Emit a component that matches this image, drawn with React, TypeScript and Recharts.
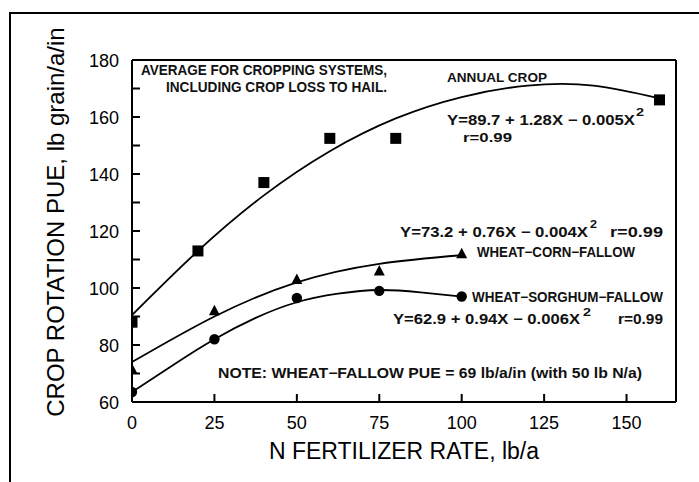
import { ComposedChart, Line, Scatter, XAxis, YAxis, ReferenceLine, Label } from 'recharts'

// measured points (N rate lb/a -> PUE lb grain/a/in)
const annualN = [0, 20, 40, 60, 80, 160]
const annualPue = [88, 113, 137, 152.5, 152.5, 166]
const cornN = [0, 25, 50, 75, 100]
const cornPue = [71.5, 92, 103, 106, 112]
const sorghumN = [0, 25, 50, 75, 100]
const sorghumPue = [63.5, 82, 96.5, 99, 97]

// fitted curves
const annualFitN = [0, 20, 40, 60, 80, 100, 120, 140, 160]
const annualFitPue = [90.5, 113, 132.5, 148, 159.5, 167, 171, 171, 166.5]
const cornFitN = [0, 25, 50, 75, 100]
const cornFitPue = [74, 90, 102, 108.5, 111.5]
const sorghumFitN = [0, 12.5, 25, 37.5, 50, 62.5, 75, 87.5, 100]
const sorghumFitPue = [63.5, 73, 82, 89.5, 95, 98, 99.3, 98.5, 97]

const xTicks = [0, 25, 50, 75, 100, 125, 150]
const yTicks = [60, 70, 80, 90, 100, 110, 120, 130, 140, 150, 160, 170, 180]

const toPoints = (xs: number[], ys: number[]) => xs.map((n, i) => ({ n, pue: ys[i] }))

const FONT = '"Liberation Sans", Arial, sans-serif'

const Square = (p: any) => <rect x={p.cx - 5.5} y={p.cy - 5.5} width={11} height={11} fill="#000" />
const Triangle = (p: any) => (
  <path d={`M${p.cx},${p.cy - 6} L${p.cx + 5.5},${p.cy + 4.5} L${p.cx - 5.5},${p.cy + 4.5} Z`} fill="#000" />
)
const Dot = (p: any) => <circle cx={p.cx} cy={p.cy} r={5.2} fill="#000" />

const axisLine = { stroke: '#000', strokeWidth: 2 }

// ticks point into the plot, labels sit outside
const LeftTick = (p: any) => {
  const v = p.payload.value
  return (
    <g>
      <line x1={p.x + 13} x2={p.x + 21} y1={p.y} y2={p.y} stroke="#000" strokeWidth={2} />
      {v % 20 === 0 && (
        <text x={p.x} y={p.y} dy={6.5} textAnchor="end" fontSize={18} fontFamily={FONT} fill="#000">{v}</text>
      )}
    </g>
  )
}
const RightTick = (p: any) => (
  <line x1={p.x} x2={p.x - 7} y1={p.y} y2={p.y} stroke="#000" strokeWidth={2} />
)
const BottomTick = (p: any) => (
  <g>
    <line x1={p.x} x2={p.x} y1={p.y - 15} y2={p.y - 23} stroke="#000" strokeWidth={2} />
    <text x={p.x} y={p.y} dy={12} textAnchor="middle" fontSize={18} fontFamily={FONT} fill="#000">{p.payload.value}</text>
  </g>
)

const Note = ({ x, y, w, size = 14, children }: any) => (
  <text x={x} y={y} fontSize={size} fontWeight="bold" fontFamily={FONT}
    textLength={w} lengthAdjust="spacingAndGlyphs" fill="#111">
    {children}
  </text>
)

export default function App() {
  return (
    <div style={{ position: 'absolute', left: 0, top: 0, width: 699, height: 482, overflow: 'hidden', background: '#fff' }}>
      <div style={{ position: 'absolute', left: 9, top: 12, width: 720, height: 500, borderLeft: '2.5px solid #000', borderTop: '2.5px solid #000' }} />
      <div style={{ position: 'absolute', left: 0, top: 0 }}>
        <ComposedChart width={699} height={482} margin={{ top: 60, right: 22, bottom: 40, left: 72 }}>
          <XAxis dataKey="n" type="number" domain={[0, 165]} ticks={xTicks} allowDataOverflow
            height={40} axisLine={axisLine} tickLine={false} tickSize={0} tickMargin={15} tick={BottomTick}>
            <Label content={(props: any) => {
              const vb = props.viewBox
              return (
                <text x={vb.x + vb.width / 2} y={459} textAnchor="middle" fontSize={23} fontFamily={FONT} fill="#000">
                  N FERTILIZER RATE, lb/a
                </text>
              )
            }} />
          </XAxis>
          <YAxis type="number" domain={[60, 180]} ticks={yTicks} allowDataOverflow width={60}
            axisLine={axisLine} tickLine={false} tickSize={0} tickMargin={13} tick={LeftTick}>
            <Label content={() => (
              <text x={64} y={222} textAnchor="middle" fontSize={24} fontFamily={FONT} fill="#000"
                transform="rotate(-90, 64, 222)">
                CROP ROTATION PUE, lb grain/a/in
              </text>
            )} />
          </YAxis>
          <YAxis yAxisId="r" orientation="right" type="number" domain={[60, 180]} ticks={yTicks} width={1}
            axisLine={axisLine} tickLine={false} tickSize={0} tickMargin={0} tick={RightTick} />
          <ReferenceLine y={180} stroke="#000" strokeWidth={2} />

          <Line data={toPoints(annualFitN, annualFitPue)} dataKey="pue" type="natural" stroke="#000"
            strokeWidth={1.8} dot={false} isAnimationActive={false} />
          <Line data={toPoints(cornFitN, cornFitPue)} dataKey="pue" type="natural" stroke="#000"
            strokeWidth={1.8} dot={false} isAnimationActive={false} />
          <Line data={toPoints(sorghumFitN, sorghumFitPue)} dataKey="pue" type="natural" stroke="#000"
            strokeWidth={1.8} dot={false} isAnimationActive={false} />

          <Scatter data={toPoints(annualN, annualPue)} dataKey="pue" shape={Square} isAnimationActive={false} />
          <Scatter data={toPoints(cornN, cornPue)} dataKey="pue" shape={Triangle} isAnimationActive={false} />
          <Scatter data={toPoints(sorghumN, sorghumPue)} dataKey="pue" shape={Dot} isAnimationActive={false} />
        </ComposedChart>
      </div>
      <svg width={699} height={482} style={{ position: 'absolute', left: 0, top: 0, pointerEvents: 'none' }}>
        <Note x={141} y={75} w={246}>AVERAGE FOR CROPPING SYSTEMS,</Note>
        <Note x={166} y={91.5} w={221}>INCLUDING CROP LOSS TO HAIL.</Note>
        <Note x={447} y={81.5} w={100} size={12.5}>ANNUAL CROP</Note>
        <Note x={447} y={125} w={188}>Y=89.7 + 1.28X − 0.005X</Note>
        <Note x={636} y={116} w={8} size={10}>2</Note>
        <Note x={463} y={141.5} w={49} size={12.5}>r=0.99</Note>
        <Note x={400} y={236.5} w={188}>Y=73.2 + 0.76X − 0.004X</Note>
        <Note x={590} y={228} w={7} size={10}>2</Note>
        <Note x={610} y={236.5} w={53}>r=0.99</Note>
        <Note x={477} y={256.5} w={158}>WHEAT−CORN−FALLOW</Note>
        <Note x={472} y={302} w={191}>WHEAT−SORGHUM−FALLOW</Note>
        <Note x={393} y={324} w={187}>Y=62.9 + 0.94X − 0.006X</Note>
        <Note x={583} y={316} w={8} size={10}>2</Note>
        <Note x={618} y={324} w={45}>r=0.99</Note>
        <Note x={218} y={378} w={424}>NOTE: WHEAT−FALLOW PUE = 69 lb/a/in  (with 50 lb N/a)</Note>
      </svg>
    </div>
  )
}
